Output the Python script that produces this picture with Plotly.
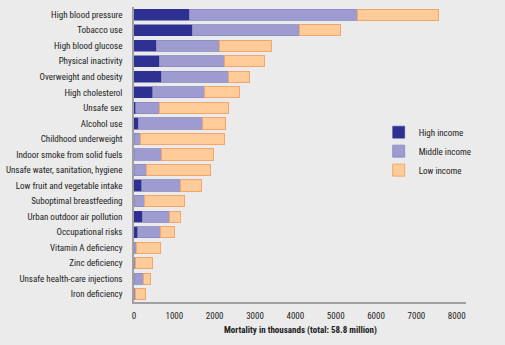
import plotly.graph_objects as go

categories = [
    "High blood pressure", "Tobacco use", "High blood glucose", "Physical inactivity",
    "Overweight and obesity", "High cholesterol", "Unsafe sex", "Alcohol use",
    "Childhood underweight", "Indoor smoke from solid fuels",
    "Unsafe water, sanitation, hygiene", "Low fruit and vegetable intake",
    "Suboptimal breastfeeding", "Urban outdoor air pollution", "Occupational risks",
    "Vitamin A deficiency", "Zinc deficiency", "Unsafe health-care injections",
    "Iron deficiency",
]
high_income = [1365, 1447, 553, 620, 677, 464, 42, 107, 0, 0, 0, 191, 0, 199, 92, 0, 0, 0, 0]
middle_income = [4186, 2647, 1556, 1613, 1656, 1280, 578, 1580, 166, 687, 305, 950, 266, 669, 561, 67, 32, 241, 42]
low_income = [1985, 1035, 1308, 993, 521, 879, 1730, 579, 2075, 1291, 1598, 539, 992, 291, 340, 596, 415, 173, 248]
x_ticks = [0, 1000, 2000, 3000, 4000, 5000, 6000, 7000, 8000]
x_title = "Mortality in thousands (total: 58.8 million)"

FONT = "Roboto Condensed, sans-serif"
BG = "#ebebeb"
FS = 9

fig = go.Figure()
fig.add_trace(go.Bar(y=categories, x=high_income, orientation="h", name="High income",
                     marker=dict(color="#2e3192", line=dict(color="#2e3192", width=0.5))))
fig.add_trace(go.Bar(y=categories, x=middle_income, orientation="h", name="Middle income",
                     marker=dict(color="#9d9bd0", line=dict(color="#8a88bf", width=0.8))))
fig.add_trace(go.Bar(y=categories, x=low_income, orientation="h", name="Low income",
                     marker=dict(color="#ffcc99", line=dict(color="#f2a66e", width=1))))

fig.add_annotation(text="<b>" + x_title + "</b>", xref="paper", yref="paper",
                   x=0.5, y=-0.096, xanchor="center", yanchor="middle", showarrow=False,
                   font=dict(family=FONT, size=FS, color="#222222"))

fig.update_layout(
    width=505, height=345,
    barmode="stack", bargap=0.28,
    paper_bgcolor=BG, plot_bgcolor=BG,
    margin=dict(l=134, r=39, t=7, b=43, autoexpand=False),
    font=dict(family=FONT, size=FS, color="#222222"),
    showlegend=True,
    legend=dict(x=0.737, y=0.625, xanchor="left", yanchor="top",
                bgcolor="rgba(0,0,0,0)", traceorder="normal", tracegroupgap=0,
                font=dict(family=FONT, size=FS, color="#222222"),
                itemclick=False),
    xaxis=dict(range=[0, 8230], tickvals=x_ticks, ticktext=[str(v) for v in x_ticks],
               showgrid=False, zeroline=False, showline=True, linecolor="#a0a0a0",
               linewidth=1.5, ticks="", ticklabelstandoff=4,
               tickfont=dict(family=FONT, size=FS), automargin=False),
    yaxis=dict(categoryorder="array", categoryarray=categories, autorange="reversed",
               showgrid=False, zeroline=False, showline=True, linecolor="#a0a0a0",
               linewidth=1.5, ticks="", ticklabelstandoff=8, automargin=False,
               tickfont=dict(family=FONT, size=FS)),
)

fig.write_html("out.html")
